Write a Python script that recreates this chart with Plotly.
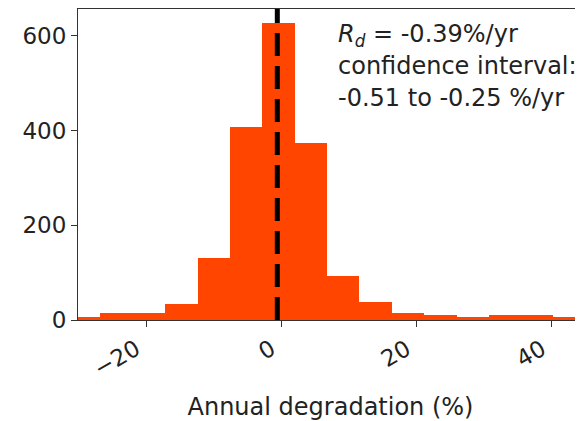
import plotly.graph_objs as go

# histogram
bin_edges = [-31.6, -26.8, -22.0, -17.2, -12.4, -7.6, -2.8, 2.0, 6.7,
             11.5, 16.3, 21.1, 25.9, 30.7, 35.5, 40.2, 45.0]
counts = [7, 15, 15, 34, 132, 408, 628, 373, 92, 37, 15, 11, 7, 11, 11, 6]
rd_line = -0.6
x_ticks = [-20, 0, 20, 40]
x_ticktext = ["\u221220", "0", "20", "40"]
y_ticks = [0, 200, 400, 600]
note_lines = ["<i>R</i><sub><i>d</i></sub> = -0.39%/yr",
              "confidence interval:",
              "-0.51 to -0.25 %/yr"]
note_y = [0.915, 0.817, 0.715]

centers = [(a + b) / 2 for a, b in zip(bin_edges[:-1], bin_edges[1:])]
widths = [b - a for a, b in zip(bin_edges[:-1], bin_edges[1:])]

font = dict(family="DejaVu Sans", color="#222")

fig = go.Figure()
fig.add_trace(go.Bar(x=centers, y=counts, width=widths, marker=dict(color="#ff4500", line=dict(width=0)),
                     showlegend=False))
fig.add_trace(go.Scatter(x=[rd_line, rd_line], y=[0, 660], mode="lines",
                         line=dict(color="black", width=5, dash="23px,10px"), showlegend=False))

for txt, yy in zip(note_lines, note_y):
    fig.add_annotation(text=txt, xref="paper", yref="paper", x=0.51, y=yy, xanchor="left", yanchor="middle",
                       align="left", showarrow=False, font=dict(size=24, **font))

# page body has an 8px margin, so the figure is 8px smaller on each side
fig.update_layout(
    width=575, height=413, margin=dict(l=70, r=0, t=1, b=101),
    plot_bgcolor="white", paper_bgcolor="white", bargap=0, font=font,
    xaxis=dict(range=[-30.07, 44.6], tickvals=x_ticks, ticktext=x_ticktext, tickangle=-30,
               ticks="outside", ticklen=6, tickcolor="#333", showline=True, linecolor="#333", mirror=True,
               showgrid=False, zeroline=False, tickfont=dict(size=23), ticklabelshift=-10,
               title=dict(text="Annual degradation (%)", font=dict(size=24), standoff=17)),
    yaxis=dict(range=[0, 657], tickvals=y_ticks, ticks="outside", ticklen=6, tickcolor="#333",
               showline=True, linecolor="#333", showgrid=False, zeroline=False, tickfont=dict(size=23)),
)

fig.write_html("out.html")
